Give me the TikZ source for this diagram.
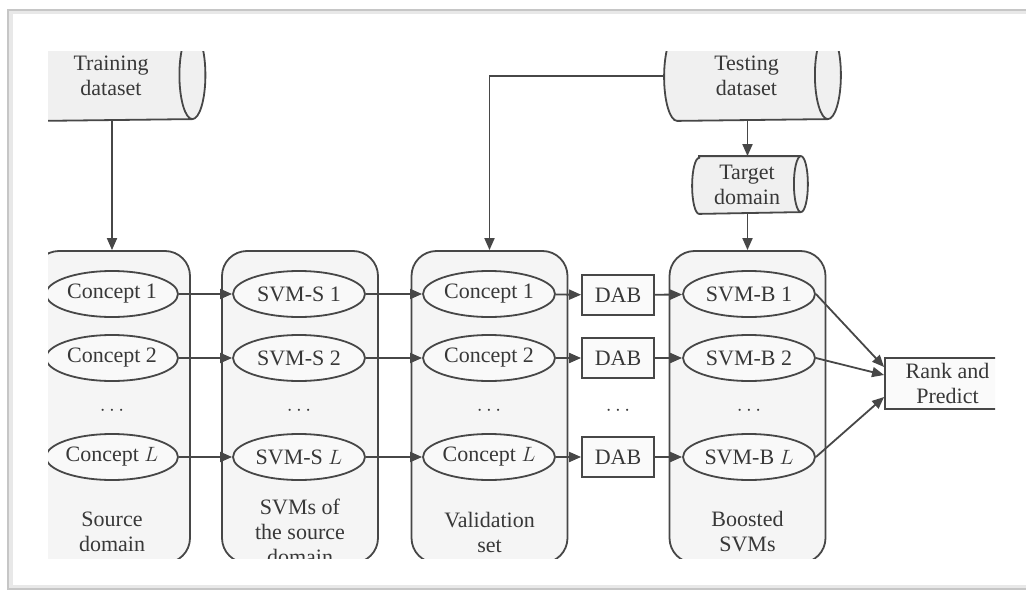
\documentclass[tikz,border=0pt]{standalone}
\usepackage{fontspec}
\setmainfont{Liberation Serif}
\usetikzlibrary{arrows.meta,calc,shapes.geometric}
\newcommand{\cylout}[3]{%
  \draw[ln,fill=gray!12] ([xshift=#2]#1.north west) -- ([xshift=-#2]#1.north east)
    arc[start angle=90,end angle=-90,x radius=#2,y radius=#3]
    -- ([xshift=#2]#1.south west)
    arc[start angle=270,end angle=90,x radius=#2,y radius=#3] -- cycle;
  \draw[ln] ([xshift=-#2]#1.north east) arc[start angle=90,end angle=270,x radius=#2,y radius=#3];
}
\begin{document}
\begin{tikzpicture}[x=1pt,y=1pt,
  line width=1.8pt,
  every node/.style={font=\fontsize{22}{25}\selectfont, text=black!78},
  ln/.style={draw=black!72},
  arr/.style={draw=black!72,-{Triangle[length=12pt,width=10pt]}},
  grp/.style={ln,rectangle,rounded corners=25pt,fill=gray!8,minimum width=156pt,minimum height=312pt,inner sep=0pt},
  ell/.style={ln,ellipse,fill=gray!5,minimum width=132pt,minimum height=46pt,inner sep=0pt},
  dab/.style={ln,rectangle,fill=gray!4,minimum width=72pt,minimum height=40pt,inner sep=0pt},
  cylbox/.style={rectangle,inner sep=0pt},
  lbl/.style={align=center}]
\useasboundingbox (0,0) rectangle (1026,-594);
% outer frame
\draw[gray!18,line width=5pt] (1026,-12) -- (10,-12) -- (10,-587) -- (1026,-587);
\draw[gray!45,line width=2pt] (1026,-10) -- (8,-10) -- (8,-589) -- (1026,-589);
\begin{scope}
\clip (48,-52) rectangle (995,-558);
% group boxes
\node[grp] (src) at (112,-407) {};
\node[grp] (svs) at (300,-407) {};
\node[grp] (val) at (489.5,-407) {};
\node[grp] (bst) at (747.5,-407) {};
\node[lbl] (lsrc) at (112,-532) {Source\\domain};
\node[lbl] (lsvs) at (300,-532) {SVMs of\\the source\\domain};
\node[lbl] (lval) at (489.5,-532) {Validation\\set};
\node[lbl] (lbst) at (747.5,-532) {Boosted\\SVMs};
% datasets
\node[cylbox,minimum width=175pt,minimum height=88pt] (train) at (117,-76) {};
\cylout{train}{13pt}{44pt}
\node[lbl] (traintxt) at ([xshift=-6pt]train.center) {Training\\dataset};
\node[cylbox,minimum width=175pt,minimum height=88pt] (test) at (752.5,-76) {};
\cylout{test}{13pt}{44pt}
\node[lbl] (testtxt) at ([xshift=-6pt]test.center) {Testing\\dataset};
\node[cylbox,minimum width=114pt,minimum height=56pt] (target) at (750,-185) {};
\cylout{target}{7pt}{28pt}
\node[lbl] (targettxt) at ([xshift=-3pt]target.center) {Target\\domain};
% rows
\node[ell] (c1) at (112,-294) {Concept 1};
\node[ell] (c2) at (112,-358) {Concept 2};
\node[ell] (cL) at (112,-457) {Concept $L$};
\node[ell] (s1) at (299,-294) {SVM-S 1};
\node[ell] (s2) at (299,-358) {SVM-S 2};
\node[ell] (sL) at (299,-457) {SVM-S $L$};
\node[ell] (v1) at (489,-294) {Concept 1};
\node[ell] (v2) at (489,-358) {Concept 2};
\node[ell] (vL) at (489,-457) {Concept $L$};
\node[dab] (d1) at (618,-295) {DAB};
\node[dab] (d2) at (618,-358) {DAB};
\node[dab] (dL) at (618,-457) {DAB};
\node[ell] (b1) at (749,-294) {SVM-B 1};
\node[ell] (b2) at (749,-358) {SVM-B 2};
\node[ell] (bL) at (749,-457) {SVM-B $L$};
\node (x1) at (112,-411) {$\cdots$};
\node (x2) at (299,-411) {$\cdots$};
\node (x3) at (489,-411) {$\cdots$};
\node (x4) at (618,-411) {$\cdots$};
\node (x5) at (749,-411) {$\cdots$};
\node[ln,rectangle,fill=gray!4,minimum width=125pt,minimum height=51pt,align=center,inner sep=0pt] (rank) at (947.5,-383.5) {Rank and\\Predict};
% connectors
\draw[arr] (src.north |- train.south) -- (src.north);
\draw[arr] (test.west) -| (val.north);
\draw[arr] (bst.north |- test.south) -- (bst.north |- target.north);
\draw[arr] (bst.north |- target.south) -- (bst.north);
\foreach \r in {1,2,L}{
  \draw[arr] (c\r) -- (s\r);
  \draw[arr] (s\r) -- (v\r);
  \draw[arr] (v\r) -- (d\r);
  \draw[arr] (d\r) -- (b\r);
}
\draw[arr] (b1.east) -- ([yshift=16.5pt]rank.west);
\draw[arr] (b2.east) -- ([yshift=8.5pt]rank.west);
\draw[arr] (bL.east) -- ([yshift=-13.5pt]rank.west);
\end{scope}
\end{tikzpicture}
\end{document}
